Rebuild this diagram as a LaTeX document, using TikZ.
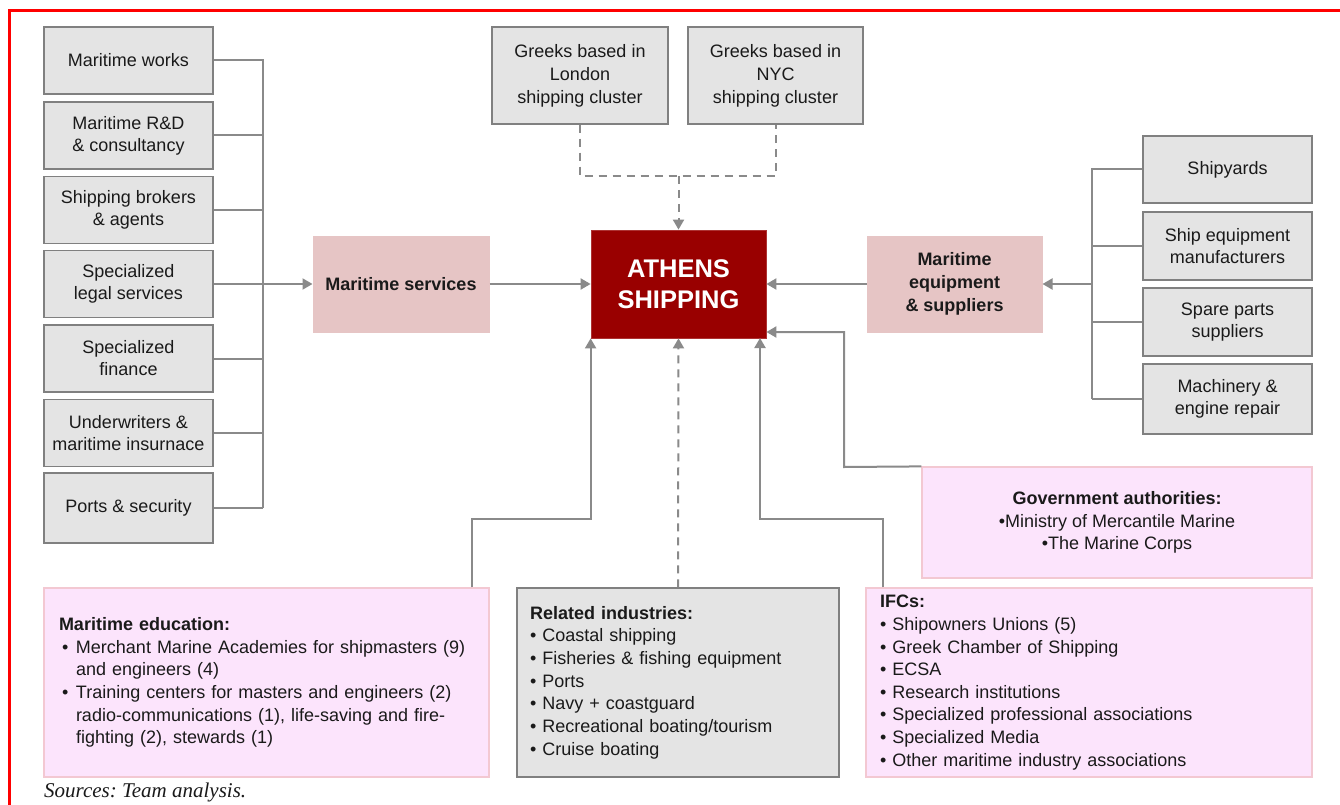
\documentclass[tikz,border=0pt]{standalone}
\usepackage{fontspec}
\setmainfont{Liberation Sans}
\newfontfamily\srcfont{Liberation Serif}
\usetikzlibrary{arrows.meta}
\definecolor{boxfill}{HTML}{E4E4E4}
\definecolor{boxline}{HTML}{808080}
\definecolor{midpink}{HTML}{E6C5C5}
\definecolor{lpink}{HTML}{FCE4FC}
\definecolor{lpinkline}{HTML}{F3C8D2}
\definecolor{athred}{HTML}{990000}
\definecolor{connc}{HTML}{8A8A8A}
\definecolor{txt}{HTML}{1A1A1A}
\tikzset{
  base/.style={inner sep=0pt, align=center, font=\fontsize{18}{22}\selectfont, text=txt},
  graybox/.style={base, draw=boxline, line width=1.4pt, fill=boxfill},
  pinkbox/.style={base, fill=midpink, draw=midpink, line width=1pt, font=\fontsize{18}{23}\selectfont\bfseries},
  lightbox/.style={base, fill=lpink, draw=lpinkline, line width=1.2pt},
  conn/.style={draw=connc, line width=2pt},
  arr/.style={-{Triangle[width=11pt,length=10pt]}},
  dashedconn/.style={conn, dash pattern=on 8pt off 6pt},
  lbox/.style={graybox, minimum width=169pt, minimum height=67pt},
}
\begin{document}
\begin{tikzpicture}[x=1pt,y=-1pt]
\useasboundingbox (0,0) rectangle (1340,805);
\fill[white] (0,0) rectangle (1340,805);
\draw[red, line width=3pt] (9,805) -- (9,11) -- (1340,11);

% left boxes
\node[lbox] (lb1) at (128.5,60.5) {Maritime works};
\node[lbox] (lb2) at (128.5,135.5) {Maritime R\&D\\\& consultancy};
\node[lbox] (lb3) at (128.5,210) {Shipping brokers\\\& agents};
\node[lbox] (lb4) at (128.5,284) {Specialized\\legal services};
\node[lbox] (lb5) at (128.5,358.5) {Specialized\\finance};
\node[lbox] (lb6) at (128.5,433) {Underwriters \&\\maritime insurnace};
\node[lbox, minimum height=70pt] (lb7) at (128.5,508) {Ports \& security};

% top boxes
\node[graybox, minimum width=176pt, minimum height=97pt, font=\fontsize{18}{23}\selectfont] (lon) at (580,75.5) {Greeks based in\\London\\shipping cluster};
\node[graybox, minimum width=175pt, minimum height=97pt, font=\fontsize{18}{23}\selectfont] (nyc) at (775.5,75.5) {Greeks based in\\NYC\\shipping cluster};

% center
\node[base, fill=athred, draw=athred!80!white, line width=0.8pt, minimum width=175pt, minimum height=108pt, text=white, font=\fontsize{25.5}{31}\selectfont\bfseries] (ath) at (678.5,284) {ATHENS\\SHIPPING};
\node[pinkbox, minimum width=176pt, minimum height=96pt] (ms) at (401,284) {Maritime services};
\node[pinkbox, minimum width=175pt, minimum height=96pt] (me) at (954.5,284) {Maritime\\equipment\\\& suppliers};

% right boxes
\node[graybox, minimum width=169pt, minimum height=67pt] (rb1) at (1227.5,169.5) {Shipyards};
\node[graybox, minimum width=169pt, minimum height=68pt] (rb2) at (1227.5,246) {Ship equipment\\manufacturers};
\node[graybox, minimum width=169pt, minimum height=68pt] (rb3) at (1227.5,322) {Spare parts\\suppliers};
\node[graybox, minimum width=169pt, minimum height=70pt] (rb4) at (1227.5,399) {Machinery \&\\engine repair};

% government
\node[lightbox, minimum width=390pt, minimum height=111pt, font=\fontsize{18}{22.5}\selectfont] (gov) at (1117,522.5) {\textbf{Government authorities:}\\•Ministry of Mercantile Marine\\•The Marine Corps};

% bottom boxes
\node[lightbox, minimum width=445pt, minimum height=189pt, align=left, text width=415pt, inner xsep=15pt, font=\fontsize{18}{22.6}\selectfont] (edu) at (266.5,682.5) {\textbf{Maritime education:}\\
\makebox[17pt][l]{\hspace{3pt}•}Merchant Marine Academies for shipmasters (9)\\
\makebox[17pt][l]{}and engineers (4)\\
\makebox[17pt][l]{\hspace{3pt}•}Training centers for masters and engineers (2)\\
\makebox[17pt][l]{}radio-communications (1), life-saving and fire-\\
\makebox[17pt][l]{}fighting (2), stewards (1)};

\node[graybox, minimum width=322pt, minimum height=189pt, align=left, text width=296pt, inner xsep=13pt, font=\fontsize{18}{22.7}\selectfont] (rel) at (678,682.5) {\textbf{Related industries:}\\
• Coastal shipping\\
• Fisheries \& fishing equipment\\
• Ports\\
• Navy + coastguard\\
• Recreational boating/tourism\\
• Cruise boating};

\node[lightbox, minimum width=446pt, minimum height=189pt, align=left, text width=418pt, inner xsep=14pt, font=\fontsize{18}{22.6}\selectfont] (ifc) at (1089,682.5) {\textbf{IFCs:}\\
• Shipowners Unions (5)\\
• Greek Chamber of Shipping\\
• ECSA\\
• Research institutions\\
• Specialized professional associations\\
• Specialized Media\\
• Other maritime industry associations};

\node[base, anchor=west, font=\srcfont\itshape\fontsize{21}{24}\selectfont\frenchspacing] (src) at (44,792) {Sources: Team analysis.};

% left bus
\coordinate (lbus) at (263,508);
\draw[conn] (lb1.east) -| (lbus);
\foreach \n in {2,...,7} \draw[conn] (lb\n.east) -- (lb\n.east -| lbus);
\draw[conn, arr] (ms.west -| lbus) -- (ms.west);
\draw[conn, arr] (ms.east) -- (ath.west);

% right bus
\coordinate (rbus) at (1092,399);
\draw[conn] (rb1.west) -| (rbus);
\foreach \n in {2,3,4} \draw[conn] (rb\n.west) -- (rb\n.west -| rbus);
\draw[conn, arr] (me.east -| rbus) -- (me.east);
\draw[conn, arr] (me.west) -- (ath.east);

% greeks
\coordinate (gj) at (678.5,176);
\draw[dashedconn] (lon.south) |- (gj) -| (nyc.south);
\draw[dashedconn, arr] (gj) -- (ath.north);

% government
\coordinate (g1) at (844,467);
\coordinate (g2) at (844,332);
\draw[conn, arr] (gov.north west) -- (g1) -- (g2) -- (g2 -| ath.east);

% bottom
\coordinate (e1) at (472,519);
\draw[conn, arr] (e1 |- edu.north) -- (e1) -| (ath.south west);
\coordinate (i1) at (883,519);
\coordinate (i2) at (760,338);
\draw[conn, arr] (i1 |- ifc.north) -- (i1) -| (i2);
\draw[dashedconn, arr] (rel.north) -- (ath.south);
\end{tikzpicture}
\end{document}
